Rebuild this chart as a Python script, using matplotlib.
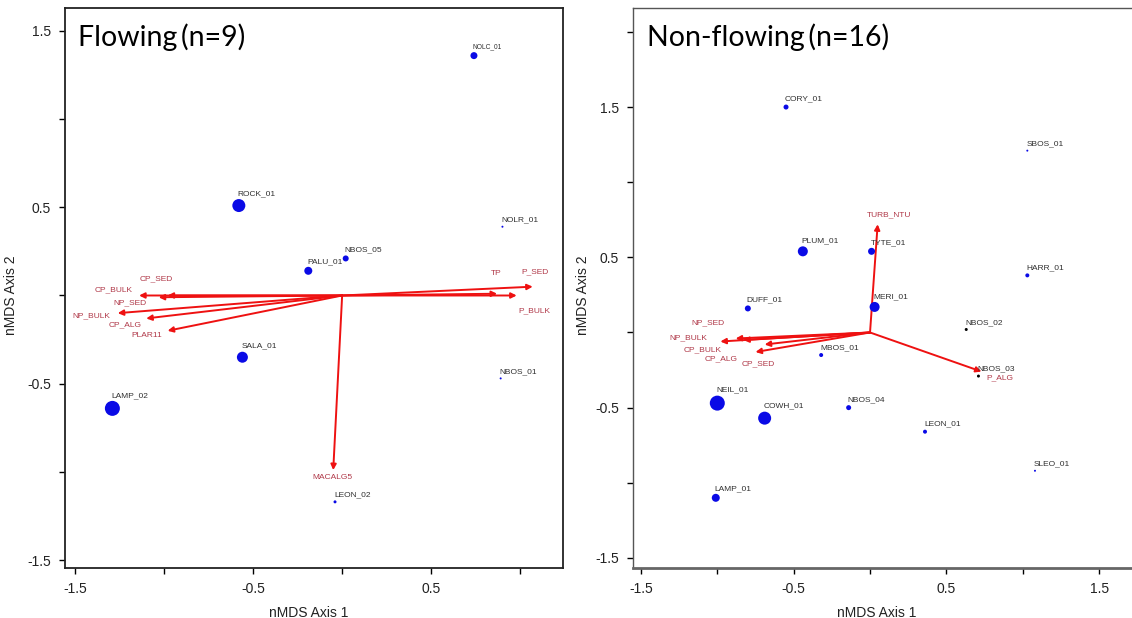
import matplotlib
matplotlib.use("Agg")
import matplotlib.pyplot as plt

# ---------------- data ----------------
# Flowing sites (nMDS scores)
flow_sites = ["NOLC_01", "ROCK_01", "NOLR_01", "PALU_01", "NBOS_05",
              "SALA_01", "LAMP_02", "NBOS_01", "LEON_02"]
flow_x = [0.74, -0.58, 0.90, -0.19, 0.02, -0.56, -1.29, 0.89, -0.04]
flow_y = [1.36, 0.51, 0.39, 0.14, 0.21, -0.35, -0.64, -0.47, -1.17]
flow_size = [7, 13, 2, 8, 6, 11, 15, 2, 3]          # symbol diameter (px)

# Flowing environmental vectors
flow_vars = ["P_SED", "TP", "P_BULK", "CP_BULK", "CP_SED", "NP_SED",
             "NP_BULK", "CP_ALG", "PLAR11", "MACALG5"]
flow_vx = [1.07, 0.87, 0.98, -1.14, -0.98, -1.03, -1.26, -1.10, -0.98, -0.05]
flow_vy = [0.05, 0.01, 0.00, 0.00, 0.00, -0.01, -0.10, -0.13, -0.20, -0.99]

# Non-flowing sites
nf_sites = ["CORY_01", "SBOS_01", "PLUM_01", "TYTE_01", "HARR_01", "DUFF_01",
            "MERI_01", "NBOS_02", "MBOS_01", "NBOS_03", "NEIL_01", "COWH_01",
            "NBOS_04", "LEON_01", "SLEO_01", "LAMP_01"]
nf_x = [-0.55, 1.03, -0.44, 0.01, 1.03, -0.80, 0.03, 0.63, -0.32, 0.71,
        -1.00, -0.69, -0.14, 0.36, 1.08, -1.01]
nf_y = [1.50, 1.21, 0.54, 0.54, 0.38, 0.16, 0.17, 0.02, -0.15, -0.29,
        -0.47, -0.57, -0.50, -0.66, -0.92, -1.10]
nf_size = [5, 2, 10, 7, 4, 6, 10, 3, 4, 3, 15, 13, 5, 4, 2, 8]
nf_black = ["NBOS_02", "NBOS_03"]

# Non-flowing environmental vectors
nf_vars = ["TURB_NTU", "P_ALG", "NP_BULK", "NP_SED", "CP_BULK", "CP_ALG", "CP_SED"]
nf_vx = [0.05, 0.73, -0.98, -0.88, -0.83, -0.69, -0.75]
nf_vy = [0.72, -0.26, -0.06, -0.04, -0.05, -0.08, -0.13]

# ---------------- layout / style ----------------
flow_lab_off = {"P_SED": (1.5, 10.8), "TP": (-0.7, 14.4), "P_BULK": (13, -10.8),
                "CP_BULK": (-18, 4.3), "CP_SED": (-8, 12), "NP_SED": (-21, -4.3),
                "NP_BULK": (-19, -2), "CP_ALG": (-15, -4.3), "PLAR11": (-15, -3.6),
                "MACALG5": (-0.7, -5.5)}
nf_lab_off = {"TURB_NTU": (8, 6.5), "P_ALG": (13, -4.3), "NP_BULK": (-23, 3),
              "NP_SED": (-20, 11.5), "CP_BULK": (-29.5, -7), "CP_ALG": (-31, -10),
              "CP_SED": (2, -8.6)}

TICKFONT = ["Liberation Sans Narrow", "Liberation Sans", "DejaVu Sans"]
PT_BLUE = "#0a0ae6"
VEC_RED = "#ee1111"
VEC_TXT = "#b03848"
LBL_TXT = "#303030"

fig = plt.figure(figsize=(11.32, 6.18), dpi=100)
W, H = 1132, 618


def px_axes(l, r, t, b):
    return fig.add_axes([l / W, 1 - b / H, (r - l) / W, (b - t) / H])


def setup(ax, xlim, ylim, xt, yt, title, xl_pos, yl_pos):
    ax.set_xlim(*xlim)
    ax.set_ylim(*ylim)
    ax.set_xticks(xt)
    ax.set_xticklabels([("%g" % v) if abs(v * 2) % 2 == 1 else "" for v in xt],
                       family=TICKFONT, fontsize=10, color="#222222")
    ax.set_yticks(yt)
    ax.set_yticklabels([("%g" % v) if abs(v * 2) % 2 == 1 else "" for v in yt],
                       family=TICKFONT, fontsize=10, color="#222222")
    ax.tick_params(direction="out", length=4, width=1, pad=6)
    for s in ax.spines.values():
        s.set_linewidth(1.3)
        s.set_color("#222222")
    ax.set_xlabel("nMDS Axis 1", family=TICKFONT, fontsize=10, color="#222222")
    ax.set_ylabel("nMDS Axis 2", family=TICKFONT, fontsize=10, color="#222222")
    ax.xaxis.set_label_coords(*xl_pos)
    ax.yaxis.set_label_coords(*yl_pos)
    ax.text(0.026, 0.972, title, transform=ax.transAxes, ha="left", va="top",
            family=["Lato", "DejaVu Sans"], fontsize=20.5, color="black")


def draw_vectors(ax, names, vx, vy, offs):
    for n, x, y in zip(names, vx, vy):
        ax.annotate("", xy=(x, y), xytext=(0, 0),
                    arrowprops=dict(arrowstyle="-|>", color=VEC_RED, lw=1.4,
                                    mutation_scale=8, shrinkA=0, shrinkB=0))
        dx, dy = offs[n]
        ax.annotate(n, xy=(x, y), xytext=(dx, dy), textcoords="offset points",
                    ha="center", va="center", fontsize=6, color=VEC_TXT,
                    family=["Liberation Sans", "DejaVu Sans"])


def draw_sites(ax, names, xs, ys, sizes, black=()):
    for n, x, y, d in zip(names, xs, ys, sizes):
        c = "black" if n in black else PT_BLUE
        ax.scatter([x], [y], s=(d * 0.72) ** 2, color=c, edgecolors="none", zorder=3)
        fs = 4.8 if n == "NOLC_01" else 6
        ax.annotate(n, xy=(x, y), xytext=(-0.7, (d / 2 + 2) * 0.72),
                    textcoords="offset points", ha="left", va="bottom",
                    fontsize=fs, color=LBL_TXT,
                    family=["Liberation Sans", "DejaVu Sans"])


# left panel
ax1 = px_axes(65, 563, 8, 568)
ticks = [-1.5, -1.0, -0.5, 0.0, 0.5, 1.0]
setup(ax1, (-1.556, 1.24), (-1.545, 1.63), ticks,
      [-1.5, -1.0, -0.5, 0.0, 0.5, 1.0, 1.5],
      "Flowing\u2009(n=9)", (0.49, -0.068), (-0.094, 0.4875))
draw_vectors(ax1, flow_vars, flow_vx, flow_vy, flow_lab_off)
draw_sites(ax1, flow_sites, flow_x, flow_y, flow_size)

# right panel
ax2 = px_axes(633, 1155, 8, 568)
setup(ax2, (-1.552, 1.866), (-1.567, 2.159),
      [-1.5, -1.0, -0.5, 0.0, 0.5, 1.0, 1.5],
      [-1.5, -1.0, -0.5, 0.0, 0.5, 1.0, 1.5, 2.0],
      "Non-flowing\u2009(n=16)", (0.467, -0.068), (-0.082, 0.4875))
for s in ["top", "left"]:
    ax2.spines[s].set_color("#555555")
    ax2.spines[s].set_linewidth(1.0)
ax2.spines["bottom"].set_color("#666666")
ax2.spines["bottom"].set_linewidth(2.0)
draw_vectors(ax2, nf_vars, nf_vx, nf_vy, nf_lab_off)
draw_sites(ax2, nf_sites, nf_x, nf_y, nf_size, black=nf_black)

fig.savefig("out.png", dpi=100)
